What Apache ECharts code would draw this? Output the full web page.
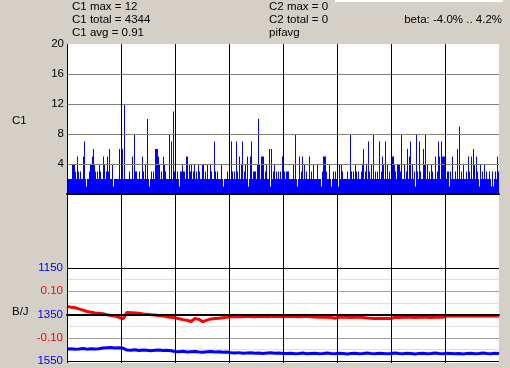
<!DOCTYPE html>
<html>
<head>
<meta charset="utf-8">
<script src="https://cdn.jsdelivr.net/npm/echarts@6/dist/echarts.min.js"></script>
<style>
html,body{margin:0;padding:0;background:#d4d0c8;}
#c{width:510px;height:368px;}
</style>
</head>
<body>
<div id="c"></div>
<script>
// C1 counts, one per pixel column (x = 67 .. 498), rows of 54 = one grid column each
const c1Row0 = [2,2,2,2,2,4,4,4,3,2, 5,3,2,3,2,2,5,7,2,1, 2,2,3,4,4,5,6,4,3,2, 3,2,4,3,2,2,5,4,2,3, 5,3,6,2,2,4,1,2,2,2, 2,2,6,2];
const c1Row1 = [2,6,2,12,2,2,2,2,3,2, 2,5,2,8,3,3,2,2,3,2, 2,5,3,2,4,2,10,2,1,2, 3,2,3,2,6,6,6,5,4,2, 3,2,5,4,3,2,2,2,8,2, 7,2,11,3];
const c1Row2 = [10,2,3,2,1,3,3,4,3,3, 2,5,5,2,4,3,4,2,3,4, 2,3,2,4,3,2,2,4,4,2, 3,2,4,2,2,4,3,2,2,7, 3,2,3,2,2,2,4,2,1,2, 2,2,3,2];
const c1Row3 = [2,2,7,3,2,3,2,7,3,2, 5,2,4,7,2,3,4,2,5,1, 2,5,7,2,3,3,3,2,4,10, 4,2,5,5,5,2,3,4,2,2, 6,1,6,2,3,4,2,3,2,3, 2,3,2,5];
const c1Row4 = [2,3,2,3,3,3,2,2,2,2, 4,2,8,2,1,2,5,2,3,5, 2,4,2,3,2,2,5,2,3,2, 4,2,2,2,4,2,2,2,1,3, 5,5,5,3,2,2,4,2,1,2, 3,2,3,2];
const c1Row5 = [2,1,4,2,4,3,2,2,2,2, 3,2,2,8,3,2,3,2,4,3, 2,3,2,2,3,4,6,2,3,4, 2,7,3,2,4,2,8,2,3,2, 3,2,7,2,3,5,4,2,7,2, 4,2,3,2];
const c1Row6 = [2,5,5,4,3,2,4,4,4,3, 8,2,2,4,2,3,6,2,5,7, 2,4,2,3,1,8,3,2,7,3, 2,2,6,4,8,2,4,2,3,2, 4,3,2,2,5,2,3,7,5,2, 7,5,5,5];
const c1Row7 = [5,2,3,3,1,3,2,5,2,2, 3,2,6,2,9,2,3,2,4,2, 2,3,2,5,3,2,5,2,6,4, 2,5,3,2,1,4,2,3,2,4, 2,3,2,2,3,2,1,3,1,2, 3,2,5,3];
const c1Values = [].concat(c1Row0,c1Row1,c1Row2,c1Row3,c1Row4,c1Row5,c1Row6,c1Row7);

// beta (red, left inner axis) and J (blue, inverted axis)
const betaValues = [0.035,0.031,0.029,0.024,0.019,0.013,0.010,0.007,0.005,0.003,
 -0.001,-0.004,-0.007,-0.012,-0.019,0.009,0.008,0.007,0.005,0.002,
 0.001,-0.001,-0.002,-0.004,-0.006,-0.010,-0.012,-0.014,-0.018,-0.022,
 -0.025,-0.030,-0.017,-0.021,-0.031,-0.024,-0.019,-0.017,-0.016,-0.014,
 -0.012,-0.010,-0.010,-0.009,-0.010,-0.008,-0.009,-0.010,-0.008,-0.009,
 -0.010,-0.009,-0.008,-0.009,-0.010,-0.009,-0.008,-0.009,-0.010,-0.009,
 -0.008,-0.010,-0.011,-0.012,-0.011,-0.012,-0.013,-0.016,-0.012,-0.011,
 -0.012,-0.013,-0.012,-0.011,-0.013,-0.015,-0.016,-0.017,-0.016,-0.017,
 -0.016,-0.018,-0.012,-0.013,-0.012,-0.011,-0.012,-0.013,-0.012,-0.011,
 -0.012,-0.013,-0.012,-0.011,-0.012,-0.006,-0.005,-0.006,-0.007,-0.006,
 -0.005,-0.006,-0.007,-0.006,-0.005,-0.006,-0.007,-0.006,-0.006];
const jValues = [1498,1497,1499,1498,1496,1499,1497,1498,1497,
 1494,1493,1492,1494,1493,1495,
 1503,1504,1502,1505,1503,1504,1506,1504,1503,1505,1504,1506,
 1509,1510,1508,1511,1510,1509,1511,1512,1510,1509,1511,1510,1512,1511,
 1515,1516,1514,1517,1516,1515,1517,1516,1518,1516,1515,1517,1516,1518,
 1518,1517,1519,1518,1516,1519,1518,1517,1519,1518,
 1516,1518,1519,1517,1518,1520,1518,1517,1519,1518,
 1516,1518,1519,1517,1518,1519,1518,1516,1518,1519,
 1517,1518,1520,1518,1517,1519,1518,1516,1518,1519,
 1517,1518,1519,1518,1520,1518,1517,1519,1518,1516,
 1518,1519,1517,1518];

const c1Ticks = [0,4,8,12,16,20];
const statsLeft = ['C1 max = 12','C1 total = 4344','C1 avg = 0.91'];
const statsMid = ['C2 max = 0','C2 total = 0','pifavg'];
const betaText = 'beta: -4.0% .. 4.2%';

const FONT = 'Liberation Sans';
const FS = 11.5;
const barCats = c1Values.map((v,i)=>i);
const lineCats = betaValues.map((v,i)=>i);

const chart = echarts.init(document.getElementById('c'), null, {renderer:'canvas'});
function txt(x,y,t,align,color){
  return {type:'text', x:x, y:y, z:20, style:{text:t, font: FS+'px "'+FONT+'"', fill: color||'#000', align: align||'left', verticalAlign:'middle'}};
}
const graphics = [
  {type:'rect', shape:{x:335,y:0,width:168,height:2}, style:{fill:'#fff'}, z:1}
];
statsLeft.forEach((t,i)=>graphics.push(txt(72, 7+i*12.7, t)));
statsMid.forEach((t,i)=>graphics.push(txt(269, 7+i*12.7, t)));
graphics.push(txt(502, 19.7, betaText, 'right'));
graphics.push(txt(12, 121, 'C1'));
graphics.push(txt(12, 311.5, 'B/J'));

const gridSplit = ['rgba(0,0,0,0)','#808080','#808080','#808080','#808080','rgba(0,0,0,0)'];
const lowSplit = ['#000','#e0e0e0','#a0a0a0','#e0e0e0','#000','#e0e0e0','#a0a0a0','#e0e0e0','#000'];

chart.setOption({
  animation:false,
  backgroundColor:'#d4d0c8',
  graphic: graphics,
  grid:[
    {left:67, top:44, width:432, height:319, show:true, backgroundColor:'#fff', borderWidth:0},
    {left:67, top:44, width:432, height:150},
    {left:67, top:268, width:432, height:93}
  ],
  xAxis:[
    {gridIndex:0, type:'value', min:0, max:432, interval:54, z:10,
     axisLine:{show:false}, axisTick:{show:false}, axisLabel:{show:false},
     splitLine:{show:true, showMaxLine:false, lineStyle:{color:'#000', width:1}}},
    {gridIndex:1, type:'category', data:barCats, z:10, boundaryGap:true,
     axisLine:{show:true, lineStyle:{color:'#000', width:2}}, axisTick:{show:false}, axisLabel:{show:false}, splitLine:{show:false}},
    {gridIndex:2, type:'category', data:lineCats, position:'top', boundaryGap:false, z:10,
     axisLine:{show:true, lineStyle:{color:'#000', width:2}}, axisTick:{show:false}, axisLabel:{show:false}, splitLine:{show:false}}
  ],
  yAxis:[
    {gridIndex:0, type:'value', show:false, min:0, max:1, splitLine:{show:false}},
    {gridIndex:1, type:'value', min:c1Ticks[0], max:c1Ticks[c1Ticks.length-1], interval:4, z:10,
     axisLine:{show:false}, axisTick:{show:false},
     axisLabel:{showMinLabel:false, color:'#000', fontFamily:FONT, fontSize:FS, margin:3},
     splitLine:{show:true, lineStyle:{color:gridSplit, width:1}}},
    {gridIndex:2, type:'value', min:-0.2, max:0.2, interval:0.05,
     axisLine:{show:false}, axisTick:{show:false},
     axisLabel:{color:'#ff0000', fontFamily:FONT, fontSize:FS, margin:4,
       formatter:function(v){return Math.abs(Math.abs(v)-0.1)<1e-6 ? v.toFixed(2) : '';}},
     splitLine:{show:true, lineStyle:{color:lowSplit, width:1}}},
    {gridIndex:2, type:'value', min:1150, max:1550, interval:200, inverse:true, position:'left',
     axisLine:{show:false}, axisTick:{show:false},
     axisLabel:{color:'#0000ff', fontFamily:FONT, fontSize:FS, margin:4,
       formatter:function(v){return String(Math.round(v));}},
     splitLine:{show:false}}
  ],
  series:[
    {type:'bar', xAxisIndex:1, yAxisIndex:1, data:c1Values, barCategoryGap:'0%', barGap:'0%',
     itemStyle:{color:'#0000ff'}, silent:true},
    {type:'line', xAxisIndex:2, yAxisIndex:2, data:betaValues, showSymbol:false,
     lineStyle:{color:'#ff0000', width:3}, silent:true},
    {type:'line', xAxisIndex:2, yAxisIndex:3, data:jValues, showSymbol:false,
     lineStyle:{color:'#0000ff', width:3}, silent:true}
  ]
});
</script>
</body>
</html>
